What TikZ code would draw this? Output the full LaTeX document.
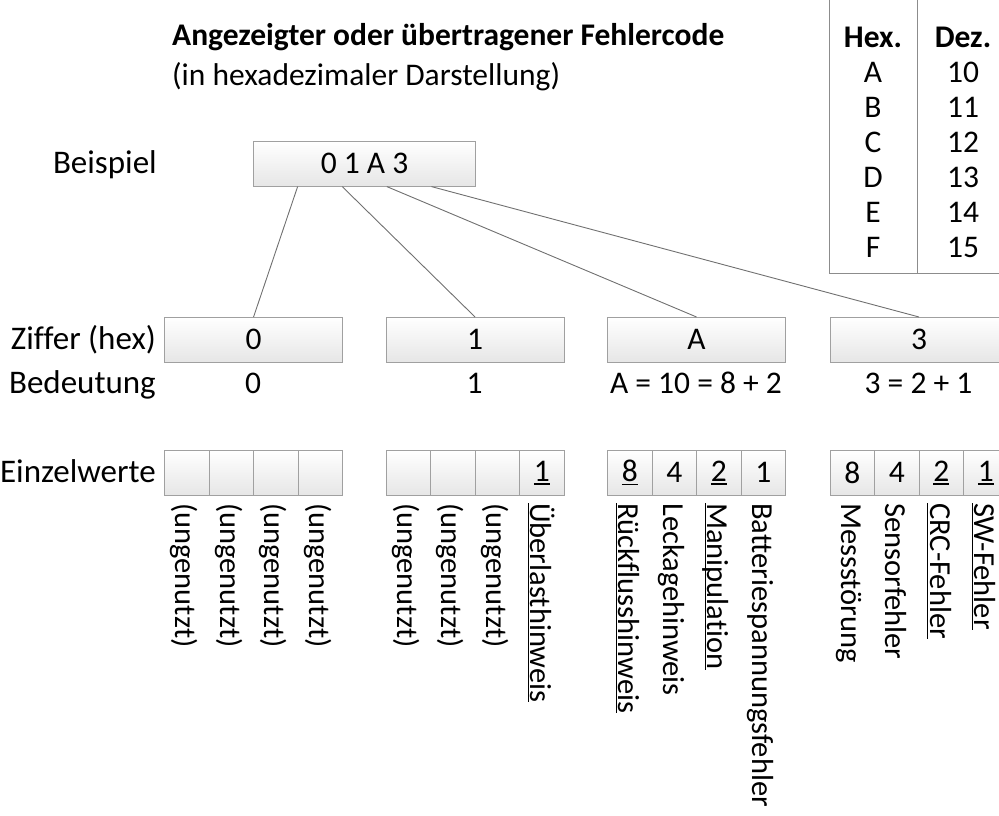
\documentclass[tikz,border=0pt]{standalone}
\usepackage{fontspec}
\setmainfont{Carlito}[Ligatures=NoCommon]
\definecolor{boxline}{HTML}{A0A0A0}
\definecolor{boxfill}{HTML}{E6E6E6}
\definecolor{connline}{HTML}{707070}
\definecolor{tabline}{HTML}{8C8C8C}
\newsavebox\ulbox
\newcommand\ulx[1]{\sbox\ulbox{#1}\rlap{\rule[-3.2pt]{\wd\ulbox}{1.4pt}}\usebox\ulbox}
\tikzset{
  box/.style={draw=boxline, line width=1.1pt, top color=white, bottom color=boxfill,
    minimum height=44.5pt, inner sep=0pt, anchor=north west},
  dbox/.style={box, minimum width=178pt},
  cell/.style={box, minimum width=44.5pt},
  lbl/.style={anchor=base east, inner sep=0pt, font=\fontsize{33}{40}\selectfont},
  ctext/.style={anchor=base, inner sep=0pt},
  vlbl/.style={rotate=-90, anchor=base west, inner sep=0pt, font=\fontsize{30.5}{36}\selectfont},
  conn/.style={draw=connline, line width=0.9pt},
  tab/.style={draw=tabline, line width=1pt},
}
\begin{document}
\begin{tikzpicture}[x=1pt, y=-1pt, font=\fontsize{31.5}{38}\selectfont]
\useasboundingbox (0,0) rectangle (999,816);

% title
\node[anchor=base west, inner sep=0pt] (title) at (172,46) {\bfseries Angezeigter oder übertragener Fehlercode};
\node[anchor=base west, inner sep=0pt] (subtitle) at (172,85) {(in hexadezimaler Darstellung)};

% hex table
\draw[tab] (829,-5) rectangle (1020,273);
\draw[tab] (917,-5) -- (917,273);
\node[ctext] (hh) at (873,48) {\bfseries Hex.};
\node[ctext] (hd) at (963,48) {\bfseries Dez.};
\foreach \h/\d [count=\i] in {A/10,B/11,C/12,D/13,E/14,F/15}{
  \node[ctext] (h\i) at (873,47.5+35*\i) {\h};
  \node[ctext] (dz\i) at (963,47.5+35*\i) {\d};
}

% row labels
\node[lbl] (lbeispiel) at (157,173) {Beispiel};
\node[lbl] (lziffer) at (156,349.5) {Ziffer (hex)};
\node[lbl] (lbedeutung) at (156,393) {Bedeutung};
\node[lbl] (leinzel) at (156,482) {Einzelwerte};

% top box
\node[box, minimum width=222pt] (code) at (253,141) {0 1 A 3};
\path (code.south west) -- (code.south east)
  coordinate[pos=0.2] (t0) coordinate[pos=0.4] (t1)
  coordinate[pos=0.6] (t2) coordinate[pos=0.8] (t3);

% digit boxes
\node[dbox] (d0) at (164,317) {0};
\node[dbox] (d1) at (385.5,317) {1};
\node[dbox] (d2) at (607,317) {A};
\node[dbox] (d3) at (829.5,317) {3};

\draw[conn] (t0) -- (d0.north);
\draw[conn] (t1) -- (d1.north);
\draw[conn] (t2) -- (d2.north);
\draw[conn] (t3) -- (d3.north);

% meanings
\node[ctext] (m0) at (253,393) {0};
\node[ctext] (m1) at (474.5,393) {1};
\node[ctext] (m2) at (696,393) {A = 10 = 8 + 2};
\node[ctext] (m3) at (918.5,393) {3 = 2 + 1};

% cells group 1
\foreach \i in {0,1,2,3}{
  \node[cell] (a\i) at (164+44.5*\i,450) {};
  \node[vlbl] (va\i) at (164+44.5*\i+22.25-10.5,503) {(ungenutzt)};
}
% cells group 2
\node[cell] (b0) at (385.5,450) {};
\node[cell] (b1) at (430,450) {};
\node[cell] (b2) at (474.5,450) {};
\node[cell] (b3) at (519,450) {\ulx{1}};
\node[vlbl] (vb0) at (397.25,503) {(ungenutzt)};
\node[vlbl] (vb1) at (441.75,503) {(ungenutzt)};
\node[vlbl] (vb2) at (486.25,503) {(ungenutzt)};
\node[vlbl] (vb3) at (530.75,503) {\ulx{Überlasthinweis}};
% cells group 3
\node[cell] (c0) at (607,450) {\ulx{8}};
\node[cell] (c1) at (651.5,450) {4};
\node[cell] (c2) at (696,450) {\ulx{2}};
\node[cell] (c3) at (740.5,450) {1};
\node[vlbl] (vc0) at (618.75,503) {\ulx{Rückflusshinweis}};
\node[vlbl] (vc1) at (663.25,503) {Leckagehinweis};
\node[vlbl] (vc2) at (707.75,503) {\ulx{Manipulation}};
\node[vlbl] (vc3) at (752.25,503) {Batteriespannungsfehler};
% cells group 4
\node[cell] (e0) at (829.5,450) {8};
\node[cell] (e1) at (874,450) {4};
\node[cell] (e2) at (918.5,450) {\ulx{2}};
\node[cell] (e3) at (963,450) {\ulx{1}};
\node[vlbl] (ve0) at (841.25,503) {Messstörung};
\node[vlbl] (ve1) at (885.75,503) {Sensorfehler};
\node[vlbl] (ve2) at (930.25,503) {\ulx{CRC-Fehler}};
\node[vlbl] (ve3) at (974.75,503) {\ulx{SW-Fehler}};
\end{tikzpicture}
\end{document}
